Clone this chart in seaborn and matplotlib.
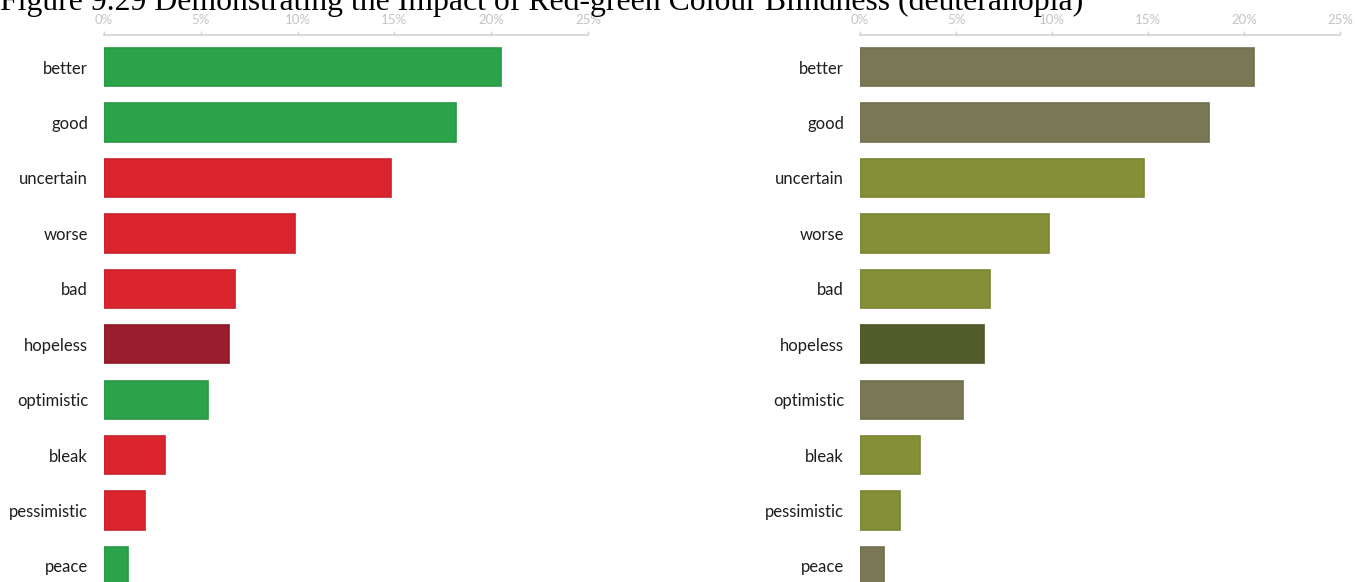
import pandas as pd
import matplotlib.pyplot as plt
import seaborn as sns

words = ["better", "good", "uncertain", "worse", "bad", "hopeless",
         "optimistic", "bleak", "pessimistic", "peace"]
shares = [20.5, 18.2, 14.8, 9.85, 6.75, 6.45, 5.35, 3.15, 2.1, 1.25]
tone = ["positive", "positive", "negative", "negative", "negative", "strong",
        "positive", "negative", "negative", "positive"]
tick_values = [0, 5, 10, 15, 20, 25]
tick_labels = ["0%", "5%", "10%", "15%", "20%", "25%"]

normal_colors = {"positive": "#2ba34a", "negative": "#da252e", "strong": "#9b1c2c"}
deutan_colors = {"positive": "#7a7755", "negative": "#858f37", "strong": "#525b2a"}

title = "Figure 9.29 Demonstrating the Impact of Red-green Colour Blindness (deuteranopia)"

data = pd.DataFrame({"word": words, "share": shares, "tone": tone})

sns.set_style("white")
plt.rcParams['font.family'] = ['Lato', 'DejaVu Sans']

fig = plt.figure(figsize=(13.55, 5.82), dpi=100)
ax_left = fig.add_axes([104 / 1355, 0.0, (588 - 104) / 1355, 1 - 35 / 582])
ax_right = fig.add_axes([860 / 1355, 0.0, (1340 - 860) / 1355, 1 - 35 / 582])


def draw_panel(ax, palette):
    sns.barplot(data=data, x="share", y="word", hue="tone", palette=palette,
                order=words, width=0.69, dodge=False, legend=False,
                saturation=1, ax=ax, linewidth=1.2)
    # slightly darker outline round each bar
    for bar in ax.patches:
        c = bar.get_facecolor()
        bar.set_edgecolor((c[0] * 0.93, c[1] * 0.93, c[2] * 0.93, 1))
    ax.set_xlim(0, 25)
    ax.set_ylim(9.29, -0.58)
    ax.set_xlabel("")
    ax.set_ylabel("")
    ax.xaxis.tick_top()
    ax.set_xticks(tick_values)
    ax.set_xticklabels(tick_labels)
    ax.tick_params(axis="x", top=True, direction="out", length=3, width=1,
                   color="#d4d4d4", labelcolor="#c4c4c4", labelsize=9.5, pad=3.5)
    ax.tick_params(axis="y", left=False, labelsize=12, labelcolor="#1e1e1e", pad=8)
    for side in ["left", "right", "bottom"]:
        ax.spines[side].set_visible(False)
    ax.spines["top"].set_color("#d4d4d4")
    ax.spines["top"].set_linewidth(1.2)


draw_panel(ax_left, normal_colors)
draw_panel(ax_right, deutan_colors)

fig.text(0.0, 1 - 10 / 582, title, family="Liberation Serif", fontsize=22.9,
         va="baseline", ha="left", color="black")

fig.savefig("out.png", dpi=100)
